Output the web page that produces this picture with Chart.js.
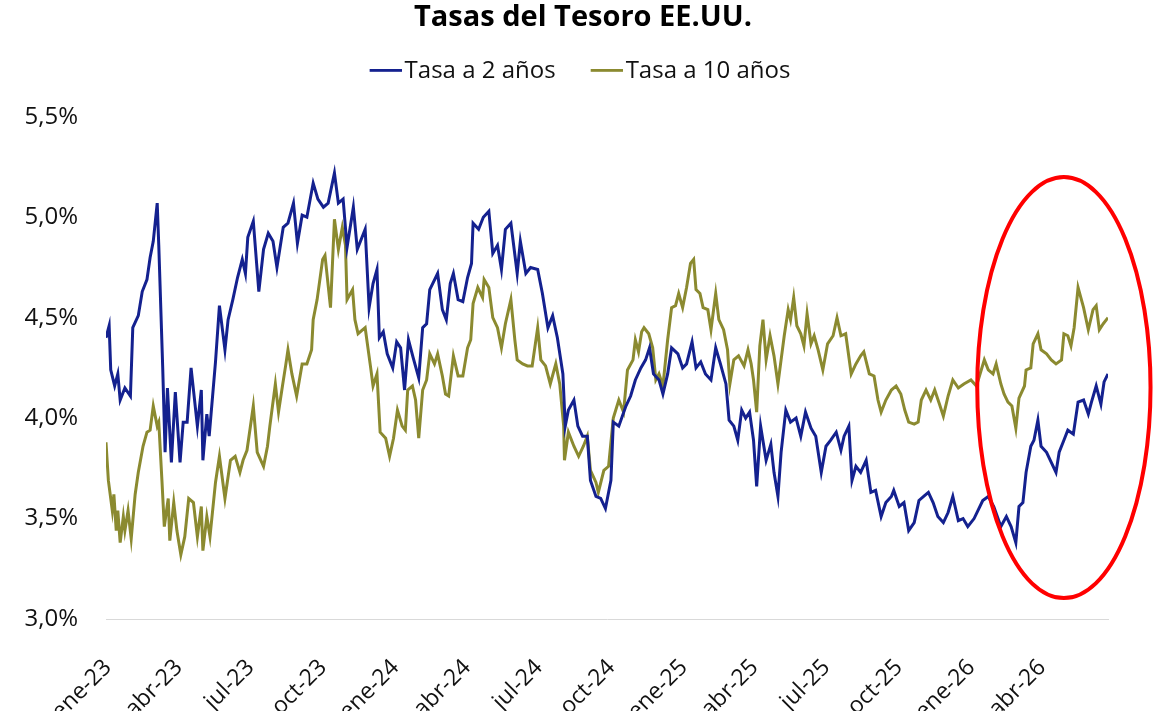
<!DOCTYPE html>
<html lang="es">
<head>
<meta charset="utf-8">
<title>Tasas del Tesoro EE.UU.</title>
<script src="https://cdn.jsdelivr.net/npm/chart.js@4.4.1/dist/chart.umd.min.js"></script>
<style>
    html, body { margin: 0; padding: 0; background: #fff; }
    #chart { display: block; }
</style>
</head>
<body>
<canvas id="chart" width="1166" height="711"></canvas>
<script>
// Dias contados desde el 1-ene-2023
const diasTasa2 = [0, 4, 6, 11, 15, 18, 24, 31, 34, 41, 46, 52, 56, 60, 65, 67, 72, 75, 78, 83, 88, 94, 98, 103, 108, 116, 121, 123, 128, 131, 139, 144, 151, 155, 161, 167, 173, 177, 180, 187, 194, 200, 206, 212, 217, 225, 231, 238, 243, 249, 255, 263, 269, 276, 282, 290, 295, 301, 306, 314, 319, 329, 334, 339, 344, 347, 352, 357, 364, 369, 374, 379, 384, 390, 397, 402, 407, 411, 421, 427, 432, 437, 441, 447, 453, 459, 464, 466, 473, 479, 486, 491, 497, 502, 507, 514, 522, 526, 533, 539, 548, 554, 561, 567, 573, 580, 583, 587, 594, 599, 605, 611, 615, 622, 628, 634, 641, 644, 651, 660, 666, 672, 679, 685, 690, 695, 702, 707, 713, 718, 726, 732, 737, 744, 749, 755, 761, 768, 774, 780, 787, 791, 797, 802, 807, 812, 817, 822, 826, 831, 838, 844, 848, 853, 857, 863, 869, 876, 882, 888, 895, 901, 908, 914, 920, 927, 933, 937, 943, 947, 952, 958, 965, 971, 977, 984, 990, 997, 1000, 1007, 1013, 1019, 1026, 1032, 1038, 1044, 1050, 1056, 1063, 1069, 1075, 1082, 1088, 1094, 1102, 1113, 1120, 1127, 1136, 1143, 1149, 1155, 1159, 1164, 1168, 1174, 1178, 1183, 1187, 1194, 1200, 1206, 1210, 1216, 1221, 1228, 1234, 1241, 1247, 1251, 1257, 1263, 1267, 1272];
const valoresTasa2 = [4.40, 4.46, 4.24, 4.16, 4.22, 4.09, 4.15, 4.11, 4.45, 4.51, 4.63, 4.69, 4.80, 4.88, 5.07, 4.86, 4.25, 3.83, 4.15, 3.78, 4.13, 3.78, 3.98, 3.98, 4.25, 3.96, 4.14, 3.79, 4.02, 3.91, 4.28, 4.56, 4.34, 4.49, 4.59, 4.70, 4.79, 4.72, 4.90, 4.98, 4.63, 4.84, 4.92, 4.88, 4.75, 4.95, 4.97, 5.07, 4.87, 5.01, 5.00, 5.17, 5.09, 5.05, 5.07, 5.22, 5.07, 5.09, 4.85, 5.05, 4.84, 4.94, 4.55, 4.67, 4.74, 4.40, 4.43, 4.32, 4.25, 4.38, 4.35, 4.14, 4.39, 4.30, 4.20, 4.45, 4.47, 4.64, 4.72, 4.54, 4.49, 4.67, 4.72, 4.59, 4.58, 4.70, 4.77, 4.97, 4.94, 5.00, 5.03, 4.82, 4.86, 4.74, 4.94, 4.97, 4.72, 4.88, 4.72, 4.75, 4.74, 4.62, 4.45, 4.51, 4.40, 4.22, 3.96, 4.04, 4.09, 3.96, 3.91, 3.91, 3.69, 3.61, 3.60, 3.55, 3.69, 3.98, 3.96, 4.06, 4.11, 4.19, 4.25, 4.29, 4.35, 4.22, 4.19, 4.12, 4.22, 4.35, 4.32, 4.25, 4.27, 4.38, 4.25, 4.28, 4.22, 4.19, 4.35, 4.27, 4.17, 3.99, 3.96, 3.89, 4.04, 4.00, 4.03, 3.89, 3.66, 3.96, 3.79, 3.87, 3.73, 3.61, 3.83, 4.04, 3.98, 4.00, 3.91, 4.03, 3.95, 3.91, 3.73, 3.86, 3.89, 3.93, 3.84, 3.91, 3.96, 3.69, 3.76, 3.73, 3.79, 3.63, 3.64, 3.51, 3.58, 3.61, 3.64, 3.56, 3.58, 3.44, 3.48, 3.59, 3.61, 3.63, 3.58, 3.51, 3.48, 3.53, 3.61, 3.49, 3.50, 3.46, 3.50, 3.59, 3.61, 3.56, 3.46, 3.51, 3.46, 3.38, 3.56, 3.58, 3.73, 3.86, 3.89, 3.99, 3.86, 3.83, 3.78, 3.73, 3.83, 3.89, 3.94, 3.92, 4.08, 4.09, 4.02, 4.08, 4.16, 4.07, 4.18, 4.22];

const diasTasa10 = [0, 3, 8, 10, 13, 15, 18, 22, 24, 28, 32, 37, 41, 47, 52, 56, 60, 65, 67, 71, 74, 79, 81, 86, 90, 95, 100, 105, 111, 116, 121, 123, 128, 132, 139, 144, 151, 158, 164, 170, 174, 179, 187, 192, 200, 205, 208, 215, 219, 224, 228, 231, 236, 242, 249, 255, 261, 263, 268, 275, 278, 285, 290, 295, 300, 304, 306, 313, 316, 320, 329, 336, 339, 344, 348, 355, 360, 365, 370, 376, 380, 383, 389, 393, 397, 402, 407, 411, 417, 421, 427, 431, 435, 441, 447, 453, 459, 463, 466, 472, 478, 480, 486, 491, 497, 502, 507, 514, 519, 522, 529, 535, 541, 548, 552, 558, 564, 571, 576, 581, 582, 587, 594, 600, 606, 611, 615, 622, 625, 632, 638, 644, 651, 657, 662, 669, 672, 676, 680, 683, 689, 694, 698, 702, 707, 713, 718, 723, 727, 732, 737, 742, 746, 749, 754, 758, 764, 768, 774, 778, 784, 789, 792, 797, 803, 810, 815, 819, 822, 826, 830, 834, 838, 843, 848, 853, 857, 861, 866, 869, 873, 877, 882, 886, 890, 895, 899, 904, 910, 916, 923, 928, 933, 939, 946, 952, 958, 962, 969, 975, 980, 984, 990, 997, 1003, 1009, 1014, 1019, 1026, 1031, 1035, 1041, 1047, 1052, 1058, 1063, 1069, 1075, 1082, 1089, 1098, 1105, 1115, 1120, 1126, 1130, 1136, 1140, 1145, 1150, 1155, 1159, 1166, 1168, 1174, 1177, 1183, 1187, 1194, 1200, 1206, 1213, 1216, 1221, 1225, 1229, 1234, 1241, 1247, 1253, 1257, 1261, 1266, 1272];
const valoresTasa10 = [3.88, 3.69, 3.54, 3.62, 3.44, 3.54, 3.38, 3.51, 3.44, 3.54, 3.40, 3.62, 3.73, 3.86, 3.93, 3.94, 4.06, 3.96, 3.98, 3.69, 3.46, 3.60, 3.39, 3.58, 3.44, 3.32, 3.41, 3.60, 3.58, 3.41, 3.56, 3.34, 3.51, 3.41, 3.68, 3.81, 3.60, 3.79, 3.81, 3.73, 3.79, 3.84, 4.06, 3.83, 3.76, 3.86, 3.96, 4.17, 4.03, 4.16, 4.26, 4.34, 4.22, 4.11, 4.27, 4.27, 4.34, 4.49, 4.59, 4.79, 4.81, 4.55, 4.99, 4.84, 4.95, 4.86, 4.59, 4.64, 4.49, 4.42, 4.45, 4.25, 4.16, 4.22, 3.93, 3.90, 3.81, 3.90, 4.04, 3.96, 3.94, 4.14, 4.16, 4.09, 3.90, 4.14, 4.19, 4.32, 4.27, 4.32, 4.21, 4.12, 4.11, 4.31, 4.21, 4.21, 4.35, 4.39, 4.57, 4.65, 4.60, 4.69, 4.65, 4.50, 4.45, 4.35, 4.47, 4.59, 4.39, 4.29, 4.27, 4.26, 4.26, 4.45, 4.29, 4.26, 4.17, 4.27, 4.17, 3.96, 3.79, 3.93, 3.86, 3.81, 3.86, 3.91, 3.74, 3.68, 3.63, 3.74, 3.76, 4.00, 4.09, 4.03, 4.24, 4.29, 4.39, 4.33, 4.43, 4.45, 4.42, 4.35, 4.19, 4.22, 4.16, 4.39, 4.55, 4.56, 4.62, 4.55, 4.65, 4.77, 4.79, 4.64, 4.62, 4.55, 4.54, 4.44, 4.62, 4.49, 4.44, 4.34, 4.17, 4.29, 4.31, 4.26, 4.34, 4.27, 4.19, 4.03, 4.36, 4.49, 4.29, 4.41, 4.31, 4.17, 4.29, 4.41, 4.54, 4.49, 4.60, 4.46, 4.42, 4.36, 4.52, 4.37, 4.41, 4.34, 4.24, 4.37, 4.41, 4.50, 4.41, 4.42, 4.22, 4.27, 4.31, 4.33, 4.22, 4.21, 4.09, 4.03, 4.09, 4.14, 4.16, 4.12, 4.04, 3.98, 3.97, 3.98, 4.09, 4.14, 4.09, 4.14, 4.07, 4.01, 4.11, 4.19, 4.15, 4.17, 4.19, 4.16, 4.29, 4.24, 4.22, 4.27, 4.17, 4.12, 4.08, 4.06, 3.95, 4.10, 4.16, 4.24, 4.25, 4.37, 4.42, 4.34, 4.32, 4.29, 4.27, 4.29, 4.42, 4.41, 4.36, 4.45, 4.65, 4.55, 4.44, 4.54, 4.56, 4.44, 4.47, 4.50];

// Marcas del eje X (inicio de cada trimestre)
const diasTrimestre = [0, 90, 181, 273, 365, 456, 547, 639, 731, 821, 912, 1004, 1096, 1186];
const etiquetasTrimestre = ['ene-23', 'abr-23', 'jul-23', 'oct-23', 'ene-24', 'abr-24', 'jul-24', 'oct-24', 'ene-25', 'abr-25', 'jul-25', 'oct-25', 'ene-26', 'abr-26'];

// Elipse roja que resalta el tramo final (centro y radios en unidades de los ejes)
const elipse = { dia: 1216, tasa: 4.152, radioDias: 110, radioTasa: 1.048 };

const AZUL = '#14218f';
const OLIVA = '#8b8a30';
const FUENTE = "'Open Sans', 'Noto Sans', sans-serif";

function toPoints(dias, valores) {
    return dias.map((d, i) => ({ x: d, y: valores[i] }));
}

// Marcador de leyenda: linea de 32px pegada al texto
function marcadorLeyenda(color) {
    const c = document.createElement('canvas');
    c.width = 35;
    c.height = 4;
    const g = c.getContext('2d');
    g.fillStyle = color;
    g.fillRect(3, 0, 32, 3);
    return c;
}

// Sube la leyenda hacia el titulo y deja aire antes del grafico
const legendAjuste = {
    id: 'legendAjuste',
    beforeInit(chart) {
        const fit = chart.legend.fit;
        chart.legend.fit = function () {
            fit.bind(this)();
            this.height += 7;
        };
    },
    afterLayout(chart) {
        chart.legend.top -= 17;
        chart.legend.bottom -= 17;
    }
};

const elipsePlugin = {
    id: 'elipse',
    afterDatasetsDraw(chart) {
        const { ctx, scales } = chart;
        const cx = scales.x.getPixelForValue(elipse.dia);
        const cy = scales.y.getPixelForValue(elipse.tasa);
        const rx = Math.abs(scales.x.getPixelForValue(elipse.dia + elipse.radioDias) - cx);
        const ry = Math.abs(scales.y.getPixelForValue(elipse.tasa + elipse.radioTasa) - cy);
        ctx.save();
        ctx.beginPath();
        ctx.ellipse(cx, cy, rx, ry, 0, 0, Math.PI * 2);
        ctx.strokeStyle = '#ff0000';
        ctx.lineWidth = 4;
        ctx.stroke();
        ctx.restore();
    }
};

new Chart(document.getElementById('chart'), {
    type: 'line',
    data: {
        datasets: [
            {
                label: 'Tasa a 2 años',
                data: toPoints(diasTasa2, valoresTasa2),
                borderColor: AZUL,
                backgroundColor: AZUL,
                borderWidth: 3,
                pointRadius: 0,
                pointStyle: marcadorLeyenda(AZUL),
                tension: 0
            },
            {
                label: 'Tasa a 10 años',
                data: toPoints(diasTasa10, valoresTasa10),
                borderColor: OLIVA,
                backgroundColor: OLIVA,
                borderWidth: 3,
                pointRadius: 0,
                pointStyle: marcadorLeyenda(OLIVA),
                tension: 0
            }
        ]
    },
    options: {
        responsive: false,
        animation: false,
        layout: { padding: 0 },
        plugins: {
            title: {
                display: true,
                text: 'Tasas del Tesoro EE.UU.',
                color: '#000',
                font: { family: FUENTE, size: 29, weight: 'bold' },
                padding: { top: 0, bottom: 0 }
            },
            legend: {
                display: true,
                labels: {
                    usePointStyle: true,
                    pointStyleWidth: 17,
                    color: '#111',
                    font: { family: FUENTE, size: 24 },
                    padding: 41
                }
            },
            tooltip: { enabled: false }
        },
        scales: {
            x: {
                type: 'linear',
                min: 0,
                max: 1272,
                afterBuildTicks(scale) {
                    scale.ticks = diasTrimestre.map(v => ({ value: v }));
                },
                afterFit(scale) {
                    scale.height = 92;
                },
                grid: { display: false, drawTicks: false },
                border: { display: true, color: '#d9d9d9', width: 1 },
                ticks: {
                    autoSkip: false,
                    minRotation: 45,
                    maxRotation: 45,
                    padding: 35,
                    labelOffset: 2,
                    color: '#111',
                    font: { family: FUENTE, size: 23 },
                    callback: (value, index) => etiquetasTrimestre[index]
                }
            },
            y: {
                min: 3,
                max: 5.5,
                afterFit(scale) {
                    scale.width = 106;
                },
                grid: { display: false, drawTicks: false },
                border: { display: false },
                ticks: {
                    stepSize: 0.5,
                    padding: 28,
                    color: '#111',
                    font: { family: FUENTE, size: 24 },
                    callback: v => v.toFixed(1).replace('.', ',') + '%'
                }
            },
            // eje vacio a la derecha: solo reserva el margen
            margenDer: {
                position: 'right',
                afterFit(scale) {
                    scale.width = 58;
                },
                grid: { display: false, drawTicks: false },
                border: { display: false },
                ticks: { display: false }
            }
        }
    },
    plugins: [legendAjuste, elipsePlugin]
});
</script>
</body>
</html>
